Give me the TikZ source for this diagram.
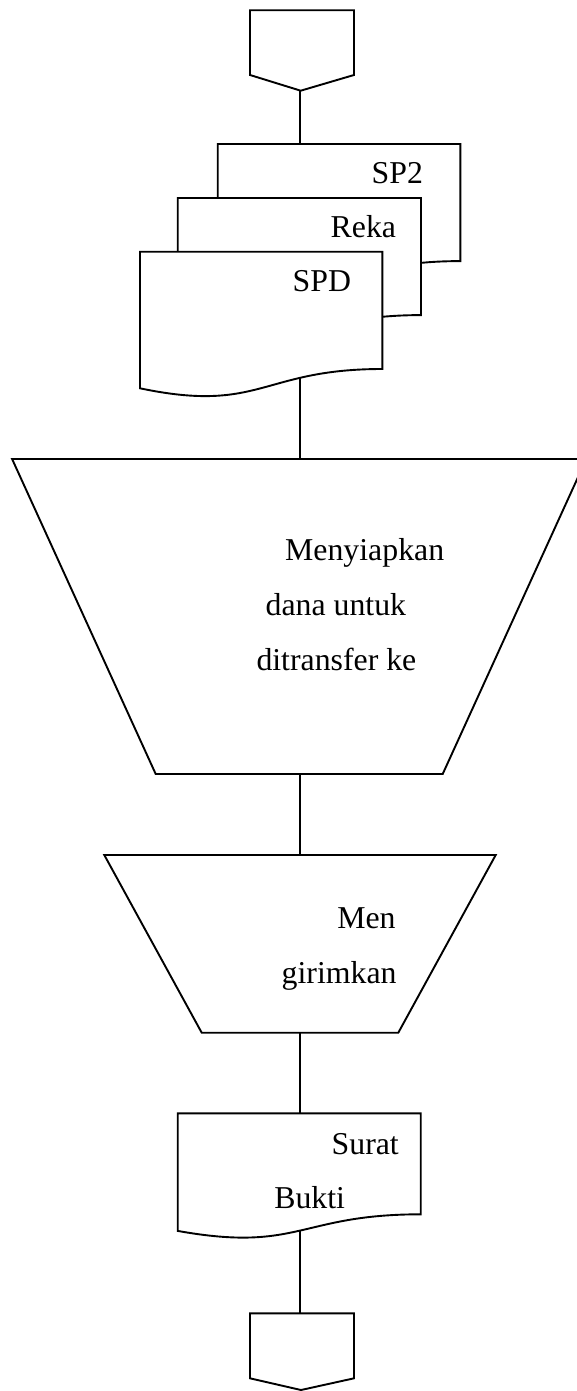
\documentclass[tikz,border=0pt]{standalone}
\usepackage{fontspec}
\setmainfont{Liberation Serif}
\begin{document}
\begin{tikzpicture}[x=1pt,y=-1pt,
  shapeline/.style={draw=black, line width=1.9pt, fill=white, line join=miter},
  conn/.style={draw=black, line width=1.9pt},
  lbl/.style={anchor=base west, inner sep=0pt, outer sep=0pt, font=\fontsize{31.8}{38}\selectfont}]
\useasboundingbox (0,0) rectangle (577,1391);

% top off-page connector
\draw[shapeline] (250,10.3) -- (354,10.3) -- (354,75) -- (300.7,90.7) -- (250,75) -- cycle;
\coordinate (opTopOut) at (300,90.7);

% stacked documents
\draw[shapeline] (217.7,144) -- (460.3,144) -- (460.3,261.1)
  .. controls (339,261.1) and (339,305.7) .. (217.7,280.4) -- cycle;
\coordinate (sp2In) at (300,144);
\draw[shapeline] (177.7,198) -- (421,198) -- (421,315.1)
  .. controls (299.35,315.1) and (299.35,359.7) .. (177.7,334.4) -- cycle;
\draw[shapeline] (140,251.7) -- (382.3,251.7) -- (382.3,369)
  .. controls (261.15,369) and (261.15,413.7) .. (140,388.3) -- cycle;
\coordinate (spdOut) at (300,378);
\node[lbl] (tSP2) at (371.7,184) {SP2};
\node[lbl] (tReka) at (330.7,237.3) {Reka};
\node[lbl] (tSPD) at (292.7,291.7) {SPD};

% big manual operation
\begin{scope}
\clip (0,0) rectangle (577,1391);
\draw[shapeline] (12.1,459) -- (586.3,459) -- (442.7,774) -- (155.7,774) -- cycle;
\end{scope}
\coordinate (bigIn) at (300,459);
\coordinate (bigOut) at (300,774);
\node[lbl] (tM1) at (285.2,560.7) {Menyiapkan};
\node[lbl] (tM2) at (265.7,615.7) {dana untuk};
\node[lbl] (tM3) at (256.5,670) {ditransfer ke};

% small manual operation
\draw[shapeline] (104.3,855) -- (495.7,855) -- (398.3,1032.7) -- (201.7,1032.7) -- cycle;
\coordinate (smIn) at (300,855);
\coordinate (smOut) at (300,1032.7);
\node[lbl] (tK1) at (337.3,928.3) {Men};
\node[lbl] (tK2) at (281.7,983.3) {girimkan};

% Surat Bukti document
\draw[shapeline] (177.7,1113.3) -- (420.7,1113.3) -- (420.7,1214.3)
  .. controls (299.2,1214.3) and (299.2,1252.7) .. (177.7,1230.9) -- cycle;
\coordinate (docIn) at (300,1113.3);
\coordinate (docOut) at (300,1231);
\node[lbl] (tS1) at (331.7,1154) {Surat};
\node[lbl] (tS2) at (274.3,1208.7) {Bukti};

% bottom off-page connector
\draw[shapeline] (250,1313.3) -- (354,1313.3) -- (354,1378.3) -- (301,1390) -- (250,1378.3) -- cycle;
\coordinate (opBotIn) at (300,1313.3);

% connectors
\draw[conn] (opTopOut) -- (sp2In);
\draw[conn] (spdOut) -- (bigIn);
\draw[conn] (bigOut) -- (smIn);
\draw[conn] (smOut) -- (docIn);
\draw[conn] (docOut) -- (opBotIn);
\end{tikzpicture}
\end{document}
